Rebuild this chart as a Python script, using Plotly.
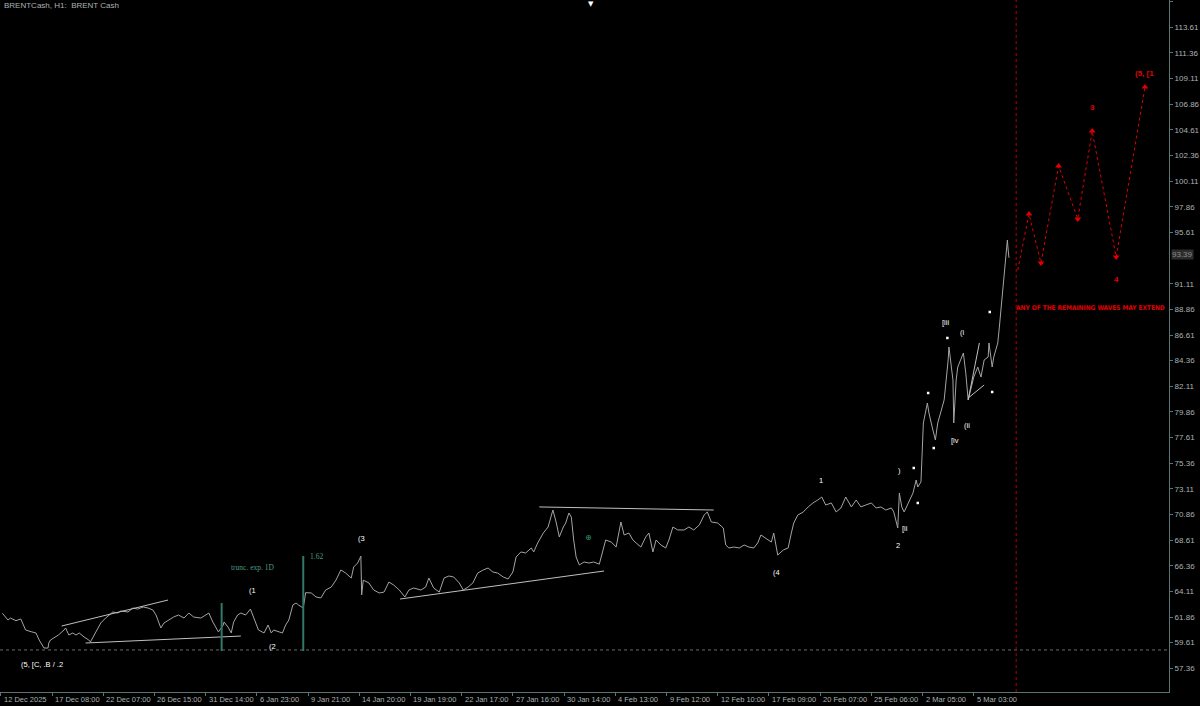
import plotly.graph_objects as go

# ---------------- data ----------------
bar_index = [2, 9, 12, 19, 25, 31, 38, 44, 48, 52, 54, 59, 60, 62, 69, 72, 79, 81, 85, 90,
             94, 98, 104, 110, 112, 119, 125, 131, 135, 140, 146, 150, 159, 165, 171, 178, 184, 190, 194, 200,
             204, 210, 216, 222, 229, 235, 241, 250, 256, 260, 265, 269, 272, 278, 279, 284, 288, 291, 296, 300,
             306, 312, 316, 322, 329, 334, 338, 341, 348, 352, 356, 360, 365, 369, 372, 378, 381, 388, 394, 400,
             406, 413, 419, 425, 431, 438, 441, 446, 450, 451, 453, 460, 466, 473, 479, 485, 491, 498, 505, 510,
             516, 525, 531, 535, 541, 548, 554, 560, 566, 573, 578, 584, 590, 596, 603, 609, 615, 621, 628, 634,
             640, 644, 650, 656, 663, 666, 671, 678, 684, 688, 690, 694, 698, 703, 706, 710, 713, 716, 719, 723,
             729, 735, 741, 748, 753, 756, 763, 769, 775, 779, 785, 790, 794, 800, 806, 810, 815, 819, 825, 831,
             835, 840, 846, 854, 860, 866, 873, 879, 883, 888, 896, 903, 906, 910, 916, 923, 929, 935, 941, 946,
             950, 956, 963, 966, 969, 971, 978, 984, 988, 991, 996, 1003, 1009, 1015, 1021, 1026, 1031, 1038, 1044, 1050,
             1056, 1063, 1069, 1075, 1081, 1088, 1094, 1100, 1106, 1113, 1116, 1119, 1121, 1123, 1126, 1129, 1134, 1140, 1144, 1146,
             1150, 1151, 1153, 1158, 1160, 1164, 1166, 1168, 1171, 1175, 1179, 1184, 1185, 1188, 1190, 1191, 1194, 1196, 1203, 1206,
             1209, 1213, 1216, 1221, 1225, 1229, 1234, 1235, 1239, 1241, 1246, 1248, 1250, 1251, 1254, 1256, 1258, 1259, 1260]

close = [62.19, 61.60, 61.77, 61.54, 61.69, 60.72, 60.57, 60.46, 59.84, 59.41, 59.14, 59.14, 59.58, 59.84, 60.11, 60.28, 60.72, 60.90, 60.28, 60.46,
         60.28, 60.46, 60.11, 59.84, 59.67, 60.55, 61.34, 61.77, 62.04, 62.30, 62.21, 62.39, 62.30, 62.65, 62.56, 62.74, 62.65, 62.48, 62.04, 60.90,
         61.34, 61.60, 61.86, 62.04, 61.77, 62.21, 61.86, 61.77, 62.04, 62.21, 61.42, 60.98, 60.55, 61.16, 61.42, 60.98, 60.46, 61.42, 62.04, 62.21,
         62.04, 62.56, 61.86, 60.72, 60.46, 61.16, 60.46, 60.72, 60.55, 60.46, 61.16, 61.60, 62.92, 63.09, 62.92, 62.65, 64.00, 63.97, 63.62, 63.53,
         64.23, 64.49, 65.11, 65.99, 65.72, 65.28, 66.25, 66.60, 67.20, 63.80, 65.10, 64.85, 64.23, 63.97, 64.05, 64.93, 64.67, 64.23, 63.62, 64.23,
         64.41, 64.23, 64.49, 65.28, 64.41, 64.05, 65.28, 65.46, 65.37, 64.85, 64.23, 64.49, 64.85, 65.72, 65.99, 66.16, 65.81, 65.72, 65.37, 65.20,
         65.81, 67.13, 67.57, 67.48, 67.92, 67.57, 68.36, 69.23, 69.76, 70.64, 71.25, 70.20, 68.88, 69.76, 70.11, 70.99, 70.64, 68.62, 67.13, 66.43,
         66.69, 66.60, 66.69, 66.50, 67.74, 68.62, 68.44, 68.00, 70.20, 69.06, 69.23, 68.62, 68.36, 68.00, 68.88, 69.23, 67.57, 68.62, 68.18, 67.92,
         68.62, 69.76, 69.50, 69.50, 69.76, 69.50, 69.94, 70.81, 71.08, 70.20, 70.11, 69.67, 68.18, 67.92, 68.00, 67.92, 68.18, 68.00, 67.92, 68.36,
         69.06, 68.79, 68.44, 69.23, 67.92, 67.30, 67.74, 67.92, 69.23, 70.11, 70.81, 71.08, 71.52, 71.87, 72.13, 72.39, 71.69, 71.87, 71.08, 71.43,
         72.39, 71.52, 72.13, 71.52, 71.69, 71.87, 71.43, 71.52, 71.25, 71.43, 71.08, 70.37, 69.67, 72.74, 71.52, 71.08, 71.87, 72.74, 73.88, 73.27,
         73.71, 76.08, 78.89, 80.64, 79.76, 78.54, 78.01, 77.40, 78.89, 80.03, 80.91, 84.42, 85.56, 83.80, 82.66, 78.89, 82.66, 83.80, 85.03, 83.28,
         80.91, 82.05, 82.92, 83.80, 82.92, 84.42, 84.68, 85.91, 83.80, 84.68, 85.91, 87.31, 88.80, 89.68, 91.44, 93.63, 94.95, 94.07, 93.39]

last_price = 93.39

x_tick_bars = [0, 64, 128, 192, 256, 320, 384, 448, 512, 576, 640, 704, 768, 832, 896, 960, 1024, 1088, 1152, 1216]
x_tick_labels = ["12 Dec 2025", "17 Dec 08:00", "22 Dec 07:00", "26 Dec 15:00", "31 Dec 14:00", "6 Jan 23:00",
                 "9 Jan 21:00", "14 Jan 20:00", "19 Jan 19:00", "22 Jan 17:00", "27 Jan 16:00", "30 Jan 14:00",
                 "4 Feb 13:00", "9 Feb 12:00", "12 Feb 10:00", "17 Feb 09:00", "20 Feb 07:00", "25 Feb 06:00",
                 "2 Mar 05:00", "5 Mar 03:00"]
y_ticks = [115.86, 113.61, 111.36, 109.11, 106.86, 104.61, 102.36, 100.11, 97.86, 95.61, 91.11, 88.86,
           86.61, 84.36, 82.11, 79.86, 77.61, 75.36, 73.11, 70.86, 68.61, 66.36, 64.11, 61.86, 59.61, 57.36]

# projected path (red)
proj_bars = [1271, 1285, 1300, 1322, 1346, 1364, 1394, 1430]
proj_prices = [92.31, 97.23, 92.93, 101.44, 96.79, 104.51, 93.46, 108.37]
proj_up = [None, True, False, True, False, True, False, True]

# wave labels (white)
wave_text = ["(5, [C, .B / .2", "(1", "(2", "(3", "(4", "1", "2", ")", "[ii", "[iii", "(i", "[iv", "(ii"]
wave_bars = [52, 314, 340, 451, 970, 1025, 1121, 1123, 1130, 1181, 1201, 1192, 1208]
wave_prices = [57.65, 64.23, 59.23, 68.71, 65.81, 73.88, 68.18, 74.76, 69.67, 87.75, 86.79, 77.31, 78.71]

# red labels
red_text = ["3", "4", "(5, [1", "ANY OF THE REMAINING WAVES MAY EXTEND"]
red_bars = [1365, 1395, 1429, 1362]
red_prices = [106.62, 91.44, 109.52, 88.98]

# small white dots
dot_bars = [1141, 1146, 1159, 1166, 1183, 1236, 1239]
dot_prices = [74.94, 71.87, 81.52, 76.69, 86.35, 88.63, 81.61]

# trend lines: (bar0, price0, bar1, price1)
trend_lines = [(76, 61.07, 209, 63.35), (106, 59.58, 300, 60.19), (499, 63.44, 754, 65.90),
               (673, 71.52, 891, 71.25), (1209, 80.91, 1223, 85.91), (1209, 81.08, 1229, 82.22)]
# green vertical markers: (bar, price_top, price_bottom)
green_vlines = [(276, 63.09, 58.88), (378, 67.22, 58.88)]
low_level = 58.97
future_start_bar = 1269

# ---------------- styling ----------------
AX = "#5d7474"
TXT = "#a9b3b3"
RED = "#e00000"
FONT = "Liberation Sans"

fig = go.Figure()

fig.add_trace(go.Scatter(x=bar_index, y=close, mode="lines",
                         line=dict(color="#a4a4a4", width=1), hoverinfo="skip"))

# projection
fig.add_trace(go.Scatter(x=proj_bars, y=proj_prices, mode="lines",
                         line=dict(color=RED, width=1, dash="dot"), hoverinfo="skip"))
up_x = [b for b, u in zip(proj_bars, proj_up) if u is True]
up_y = [p for p, u in zip(proj_prices, proj_up) if u is True]
dn_x = [b for b, u in zip(proj_bars, proj_up) if u is False]
dn_y = [p for p, u in zip(proj_prices, proj_up) if u is False]
fig.add_trace(go.Scatter(x=up_x, y=up_y, mode="markers",
                         marker=dict(symbol="triangle-up", size=6, color=RED), hoverinfo="skip"))
fig.add_trace(go.Scatter(x=dn_x, y=dn_y, mode="markers",
                         marker=dict(symbol="triangle-down", size=6, color=RED), hoverinfo="skip"))

fig.add_trace(go.Scatter(x=dot_bars, y=dot_prices, mode="markers",
                         marker=dict(symbol="square", size=2.5, color="white"), hoverinfo="skip"))

shapes = []
for b0, p0, b1, p1 in trend_lines:
    shapes.append(dict(type="line", x0=b0, y0=p0, x1=b1, y1=p1, xref="x", yref="y",
                       line=dict(color="#c0c0c0", width=1)))
for b, pt, pb in green_vlines:
    shapes.append(dict(type="line", x0=b, y0=pt, x1=b, y1=pb, xref="x", yref="y",
                       line=dict(color="#2f7a68", width=2)))
shapes.append(dict(type="line", x0=0, x1=1, xref="paper", y0=low_level, y1=low_level, yref="y",
                   line=dict(color="#6a6a6a", width=1, dash="dot")))
shapes.append(dict(type="line", x0=future_start_bar, x1=future_start_bar, xref="x", y0=0, y1=1, yref="paper",
                   line=dict(color="#b00000", width=1, dash="dot")))

ann = []
for t, b in zip(x_tick_labels, x_tick_bars):
    ann.append(dict(x=b, y=0, xref="x", yref="paper", text=t, showarrow=False,
                    xanchor="left", yanchor="top", xshift=1, yshift=-1,
                    font=dict(family=FONT, size=7.5, color=TXT)))
for t, b, p in zip(wave_text, wave_bars, wave_prices):
    ann.append(dict(x=b, y=p, text=t, showarrow=False, xanchor="center", yanchor="middle",
                    font=dict(family=FONT, size=7.5, color="white")))
for i, (t, b, p) in enumerate(zip(red_text, red_bars, red_prices)):
    if i == 3:
        ann.append(dict(x=b, y=p, text="<b>" + t + "</b>", showarrow=False, xanchor="center", yanchor="middle",
                        font=dict(family="DejaVu Sans Condensed, Liberation Sans", size=6.5, color=RED)))
    else:
        ann.append(dict(x=b, y=p, text="<b>" + t + "</b>", showarrow=False, xanchor="center", yanchor="middle",
                        font=dict(family=FONT, size=8, color=RED)))
ann.append(dict(x=314, y=66.25, text="trunc. exp. 1D", showarrow=False,
                font=dict(family="Liberation Serif", size=7.5, color="#4f9a88")))
ann.append(dict(x=394, y=67.13, text="1.62", showarrow=False,
                font=dict(family="Liberation Serif", size=7.5, color="#4f9a88")))
ann.append(dict(x=735, y=68.80, text="⊕", showarrow=False,
                font=dict(family="DejaVu Sans", size=8, color="#2e9a6e")))
ann.append(dict(x=0, y=1, xref="paper", yref="paper", text="BRENTCash, H1:  BRENT Cash", showarrow=False,
                xanchor="left", yanchor="top", xshift=2, yshift=1,
                font=dict(family=FONT, size=8, color=TXT)))
ann.append(dict(x=737, y=1, xref="x", yref="paper", text="▼", showarrow=False,
                xanchor="center", yanchor="top", yshift=2,
                font=dict(family="DejaVu Sans", size=7, color="white")))
ann.append(dict(x=1, y=last_price, xref="paper", yref="y", text=f"{last_price:.2f}", showarrow=False,
                xanchor="left", yanchor="middle", xshift=2, yshift=3, bgcolor="#2c2c2c",
                borderpad=0, font=dict(family=FONT, size=8, color="#8a8a8a")))

fig.update_layout(width=1200, height=706, margin=dict(l=0, r=31, t=0, b=14),
                  paper_bgcolor="black", plot_bgcolor="black", showlegend=False,
                  font=dict(family=FONT, size=8, color=TXT),
                  shapes=shapes, annotations=ann)
fig.update_xaxes(range=[-1, 1460], showgrid=False, zeroline=False, showline=True, linecolor=AX,
                 linewidth=1, tickvals=x_tick_bars, ticks="outside", ticklen=3, tickcolor=AX,
                 showticklabels=False, fixedrange=True)
fig.update_yaxes(range=[55.28, 116.01], side="right", showgrid=False, zeroline=False,
                 showline=True, linecolor=AX, linewidth=1, mirror=True,
                 tickvals=y_ticks, ticktext=[f"{v:.2f}" for v in y_ticks],
                 ticks="outside", ticklen=3, tickcolor=AX,
                 tickfont=dict(family=FONT, size=8, color=TXT), fixedrange=True)

fig.write_html("out.html", config={"displayModeBar": False},
               post_script="document.body.style.margin='0';document.body.style.background='black';")
